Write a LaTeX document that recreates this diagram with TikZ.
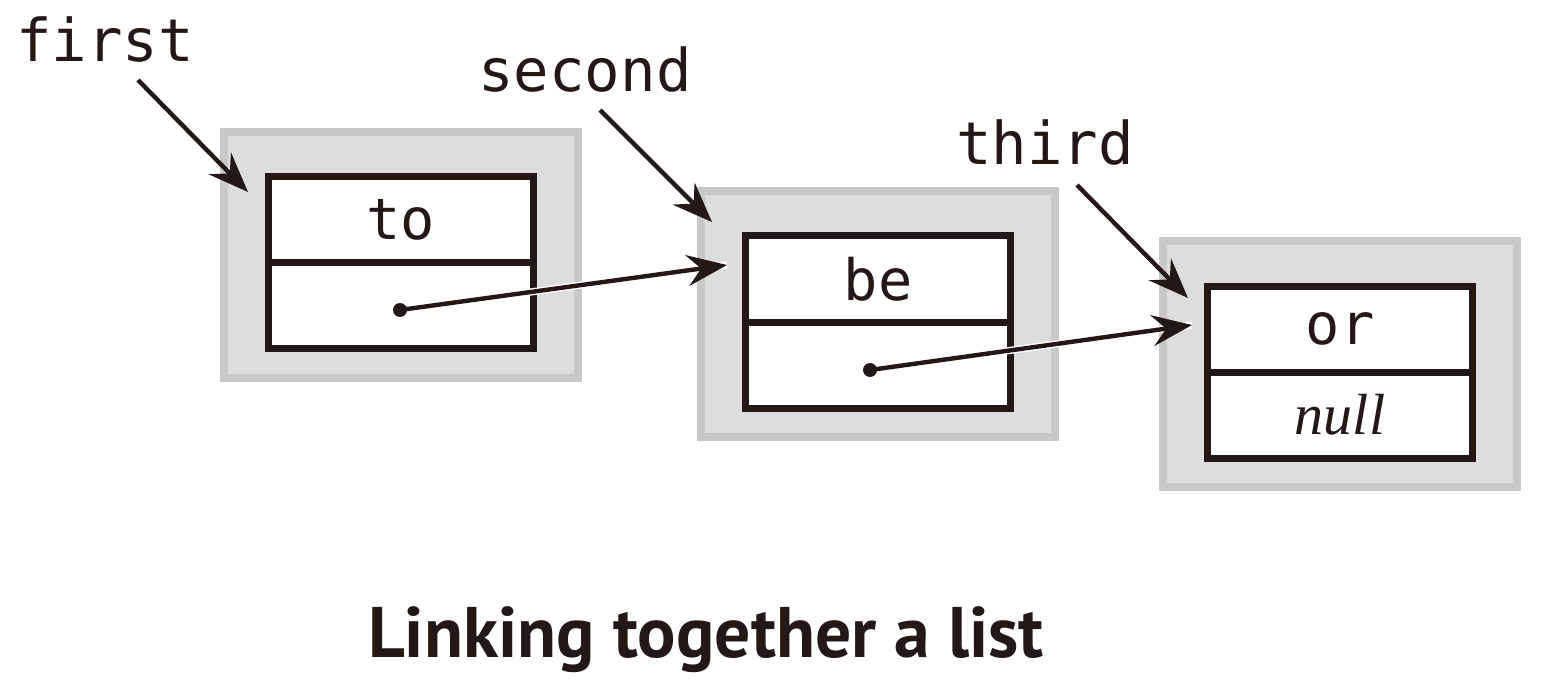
\documentclass[tikz,border=0pt]{standalone}
\usepackage{fontspec}
\setmonofont{DejaVu Sans Mono}
\newfontfamily\capfont{PT Sans}
\newfontfamily\serifitfont{Liberation Serif}
\usetikzlibrary{arrows.meta,positioning}
\definecolor{ink}{HTML}{231815}
\definecolor{grayedge}{HTML}{C8C8C8}
\definecolor{grayfill}{HTML}{DCDDDC}
\begin{document}
\begin{tikzpicture}[x=0.5pt,y=-0.5pt,
  graybox/.style={draw=grayedge,fill=grayfill,line width=4pt,minimum width=177pt,minimum height=123pt,inner sep=0pt},
  cell/.style={draw=ink,fill=white,line width=3.5pt,minimum width=132.5pt,minimum height=43pt,inner sep=0pt,outer sep=0pt,text=ink,font=\ttfamily\fontsize{28.5}{30}\selectfont},
  ptr/.style={font=\ttfamily\fontsize{29.5}{30}\selectfont,text=ink,anchor=base,inner sep=0pt},
  link/.style={draw=ink,line width=2.2pt,-{Stealth[length=20pt,width=15.5pt,inset=7pt]}},
  casing/.style={draw=white,line width=3.6pt},
  dotnode/.style={circle,fill=ink,inner sep=0pt,minimum size=7pt}]
\useasboundingbox (0,0) rectangle (1544,690);
% boxes
\node[graybox] (g1) at (401,255) {};
\node[graybox] (g2) at (878,314) {};
\node[graybox] (g3) at (1340,364) {};
\node[cell] (c1t) at (401,219.5) {to};
\node[cell,below=0pt of c1t] (c1b) {};
\node[cell] (c2t) at (878,279) {be};
\node[cell,below=0pt of c2t] (c2b) {};
\node[cell] (c3t) at (1340,329) {or};
\node[cell,below=0pt of c3t,font=\serifitfont\itshape\fontsize{29}{30}\selectfont] (c3b) {null};
% dots
\node[dotnode] (d1) at (400,310) {};
\node[dotnode] (d2) at (870,370) {};
\coordinate (e1) at (727,265);
\coordinate (e2) at (1192,325);
\draw[casing] (d1) -- (e1);
\draw[casing] (d2) -- (e2);
\draw[link] (d1.center) -- (e1);
\draw[link] (d2.center) -- (e2);
% pointer labels
\node[ptr] (first) at (105,62) {first};
\node[ptr] (second) at (585,92) {second};
\node[ptr] (third) at (1045,165) {third};
\coordinate (f0) at (138,80);
\coordinate (f1) at (248,192);
\coordinate (s0) at (600,110);
\coordinate (s1) at (712,222);
\coordinate (h0) at (1077,185);
\coordinate (h1) at (1188,298);
\draw[link] (f0) -- (f1);
\draw[link] (s0) -- (s1);
\draw[link] (h0) -- (h1);
% caption
\node[font=\capfont\bfseries\fontsize{35.8}{40}\selectfont,text=ink,anchor=base,inner sep=0pt] (cap) at (706,657) {Linking together a list};
\end{tikzpicture}
\end{document}
